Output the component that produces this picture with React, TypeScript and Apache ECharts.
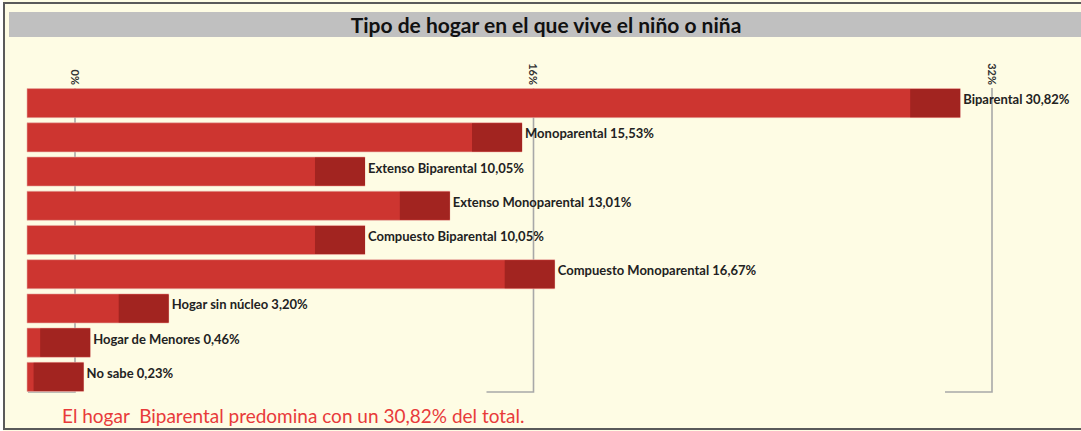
import React, { useEffect, useRef } from "react";
import * as echarts from "echarts";

const categories = [
  "Biparental",
  "Monoparental",
  "Extenso Biparental",
  "Extenso Monoparental",
  "Compuesto Biparental",
  "Compuesto Monoparental",
  "Hogar sin núcleo",
  "Hogar de Menores",
  "No sabe",
];
const values = [30.82, 15.53, 10.05, 13.01, 10.05, 16.67, 3.2, 0.46, 0.23];
const axisTicks = [0, 16, 32];
const titleText = "Tipo de hogar en el que vive el niño o niña";
const noteText = "El hogar  Biparental predomina con un 30,82% del total.";

const LIGHT = "#CD3530";
const DARK = "#A22420";
const FONT = "Lato, 'Open Sans', sans-serif";

const fmt = (v: number) => v.toFixed(2).replace(".", ",") + "%";

export default function App() {
  const ref = useRef<HTMLDivElement>(null);
  useEffect(() => {
    if (!ref.current) return;
    const chart = echarts.init(ref.current, undefined, { renderer: "svg" });
    const option: any = {
      animation: false,
      backgroundColor: "#FEFCE4",
      grid: { left: 75, right: 89, top: 86, height: 308 },
      xAxis: {
        type: "value",
        position: "top",
        min: 0,
        max: 32,
        interval: 16,
        axisLine: { show: false },
        axisTick: { show: false },
        splitLine: { show: false },
        axisLabel: {
          rotate: 90,
          margin: 1,
          fontSize: 11,
          fontWeight: "bold",
          color: "#333",
          fontFamily: FONT,
          formatter: "{value}%",
        },
      },
      yAxis: {
        type: "category",
        data: categories,
        inverse: true,
        show: false,
      },
      series: [
        {
          type: "custom",
          z: 1,
          data: axisTicks.map((t) => [t, 0]),
          encode: { x: 0, y: 1 },
          renderItem: (params: any, api: any) => {
            const cs = params.coordSys;
            const x = api.coord([api.value(0), 0])[0];
            const yb = cs.y + cs.height - 2;
            return {
              type: "polyline",
              shape: {
                points: [
                  [x, cs.y + 2],
                  [x, yb],
                  [x - 47, yb],
                ],
              },
              style: { stroke: "#A8A8A8", lineWidth: 1.6, fill: null },
            };
          },
        },
        {
          type: "custom",
          z: 3,
          data: values.map((v, i) => [v, i]),
          encode: { x: 0, y: 1 },
          renderItem: (params: any, api: any) => {
            const v = api.value(0);
            const idx = api.value(1);
            const end = api.coord([v, idx]);
            const zero = api.coord([0, idx]);
            const h = api.size([0, 1])[1] * 0.85;
            const x0 = zero[0] - 48;
            const x1 = end[0] + 2;
            const dStart = Math.max(x0 + 5, x1 - 50);
            const yTop = end[1] - h / 2;
            return {
              type: "group",
              children: [
                {
                  type: "rect",
                  shape: { x: x0, y: yTop, width: x1 - x0, height: h },
                  style: { fill: LIGHT, stroke: "#E8B0A8", lineWidth: 0.6 },
                },
                {
                  type: "rect",
                  shape: { x: dStart, y: yTop + 0.5, width: x1 - dStart, height: h - 1 },
                  style: { fill: DARK },
                },
                {
                  type: "text",
                  x: x1 + 3,
                  y: end[1] - 4,
                  style: {
                    text: categories[idx] + " " + fmt(v),
                    fill: "#222",
                    fontSize: 13,
                    fontWeight: "bold",
                    fontFamily: FONT,
                    align: "left",
                    verticalAlign: "middle",
                  },
                },
              ],
            };
          },
        },
      ],
      graphic: [
        {
          type: "rect",
          z: 0,
          shape: { x: 4, y: 3, width: 1100, height: 426 },
          style: { fill: null, stroke: "#5A5A5A", lineWidth: 2 },
        },
        {
          type: "rect",
          z: 0,
          shape: { x: 0, y: 0, width: 3, height: 431 },
          style: { fill: "#FFFFFF" },
        },
        {
          type: "rect",
          z: 0,
          shape: { x: 9, y: 12, width: 1080, height: 25 },
          style: { fill: "#C0C0C0" },
        },
        {
          type: "text",
          z: 10,
          x: 546,
          y: 24.5,
          style: {
            text: titleText,
            fill: "#111",
            fontSize: 21,
            fontWeight: "bold",
            fontFamily: FONT,
            align: "center",
            verticalAlign: "middle",
          },
        },
        {
          type: "text",
          z: 10,
          x: 62,
          y: 415,
          style: {
            text: noteText,
            fill: "#E83A3A",
            fontSize: 19,
            fontFamily: FONT,
            align: "left",
            verticalAlign: "middle",
          },
        },
      ],
    };
    chart.setOption(option);
    return () => chart.dispose();
  }, []);
  return (
    <div
      ref={ref}
      style={{ position: "fixed", left: 0, top: 0, width: 1081, height: 431 }}
    />
  );
}
